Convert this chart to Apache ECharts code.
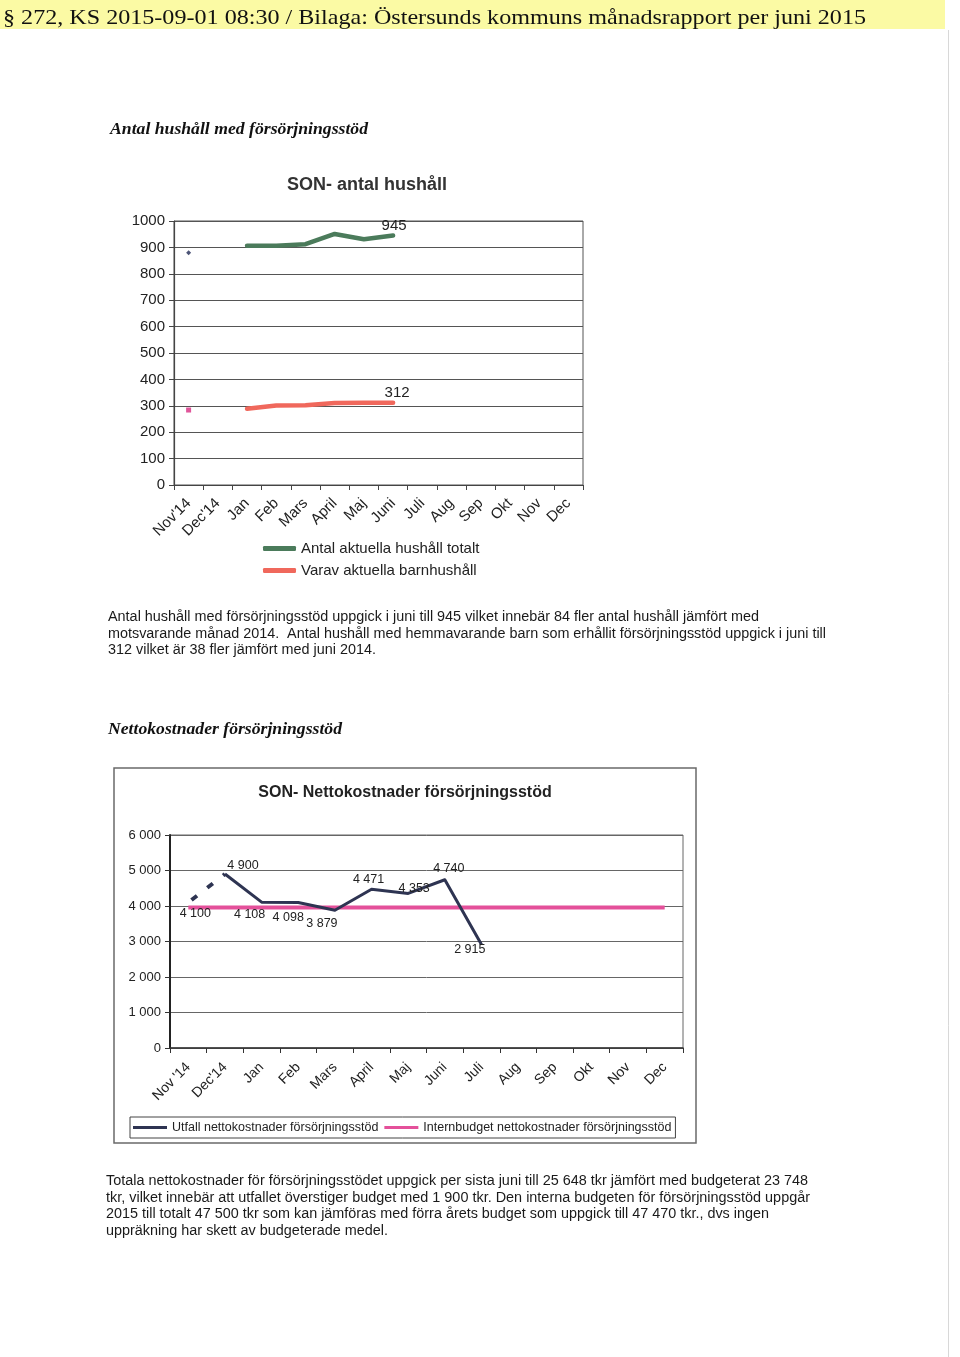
<!DOCTYPE html>
<html><head><meta charset="utf-8">
<script src="https://cdn.jsdelivr.net/npm/echarts@6/dist/echarts.min.js"></script>
<style>html,body{margin:0;padding:0;background:#fff}#c{width:960px;height:1357px}</style>
</head><body><div id="c"></div>
<script>
// ---------- data ----------
const cats1 = ["Nov'14","Dec'14","Jan","Feb","Mars","April","Maj","Juni","Juli","Aug","Sep","Okt","Nov","Dec"];
const cats2 = ["Nov '14","Dec'14","Jan","Feb","Mars","April","Maj","Juni","Juli","Aug","Sep","Okt","Nov","Dec"];
const hushallTotalt = [880, null, 906, 906, 912, 951, 931, 945, null, null, null, null, null, null];
const barnhushall   = [284, null, 289, 301, 302, 311, 312, 312, null, null, null, null, null, null];
const utfall        = [4100, 4900, 4108, 4098, 3879, 4471, 4353, 4740, 2915, null, null, null, null, null];
const internbudget  = [3958, 3958, 3958, 3958, 3958, 3958, 3958, 3958, 3958, 3958, 3958, 3958, 3958, 3958];
const seriesNames1 = ['Antal aktuella hushåll totalt', 'Varav aktuella barnhushåll'];
const seriesNames2 = ['Utfall nettokostnader försörjningsstöd', 'Internbudget nettokostnader försörjningsstöd'];
const headerText = '§ 272, KS 2015-09-01 08:30 / Bilaga: Östersunds kommuns månadsrapport per juni 2015';
const heading1 = 'Antal hushåll med försörjningsstöd';
const heading2 = 'Nettokostnader försörjningsstöd';
const para1 = [
  'Antal hushåll med försörjningsstöd uppgick i juni till 945 vilket innebär 84 fler antal hushåll jämfört med',
  'motsvarande månad 2014.  Antal hushåll med hemmavarande barn som erhållit försörjningsstöd uppgick i juni till',
  '312 vilket är 38 fler jämfört med juni 2014.'
];
const para2 = [
  'Totala nettokostnader för försörjningsstödet uppgick per sista juni till 25 648 tkr jämfört med budgeterat 23 748',
  'tkr, vilket innebär att utfallet överstiger budget med 1 900 tkr. Den interna budgeten för försörjningsstöd uppgår',
  '2015 till totalt 47 500 tkr som kan jämföras med förra årets budget som uppgick till 47 470 tkr., dvs ingen',
  'uppräkning har skett av budgeterade medel.'
];

// ---------- helpers ----------
const SANS = "'Liberation Sans', Arial, sans-serif";
const SERIF = "'Liberation Serif', 'Times New Roman', serif";
const fmt = v => String(v).replace(/\B(?=(\d{3})+(?!\d))/g, ' ');
const mctx = document.createElement('canvas').getContext('2d');
function fitText(str, font, x, cy, targetW, fill) {
  mctx.font = font;
  const w = mctx.measureText(str).width;
  const s = targetW ? targetW / w : 1;
  return { type: 'text', x: x, y: cy, scaleX: s, z: 10,
    style: { text: str, font: font, fill: fill || '#1a1a1a', verticalAlign: 'middle', align: 'left' } };
}

// label placement for chart 2 (offsets relative to the point)
const place2 = [
  { position: 'bottom', distance: 1, offset: [7, 4] },
  { position: 'top', distance: 5, offset: [18, 3] },
  { position: 'bottom', distance: 5, offset: [-12, 1] },
  { position: 'bottom', distance: 5, offset: [-10, 4] },
  { position: 'bottom', distance: 5, offset: [-13, 2] },
  { position: 'top', distance: 3, offset: [-3, 0] },
  { position: 'top', distance: 0, offset: [6, 2] },
  { position: 'top', distance: 5, offset: [4, 0] },
  { position: 'left', distance: 2, offset: [6, 5] }
];

const last1 = hushallTotalt.reduce((a, v, i) => v != null ? i : a, 0);
const lab1 = { show: true, position: 'top', distance: 2, fontSize: 15, color: '#222', fontFamily: SANS, formatter: p => fmt(p.value) };

function build1(arr, firstSym, firstColor, labOffset) {
  return arr.map((v, i) => {
    if (v == null) return null;
    if (i === 0) return { value: v, symbol: firstSym, symbolSize: 5, itemStyle: { color: firstColor } };
    if (i === last1) return { value: v, label: Object.assign({}, lab1, { offset: labOffset }) };
    return v;
  });
}

const graphics = [
  { type: 'rect', shape: { x: 0, y: 0, width: 945, height: 29 }, style: { fill: '#fbfaa4' }, z: 0 },
  { type: 'line', shape: { x1: 948.5, y1: 30, x2: 948.5, y2: 1357 }, style: { stroke: '#d8d8d8', lineWidth: 1 } },
  fitText(headerText, "22px " + SERIF, 3, 18, 863, '#111'),
  fitText(heading1, "italic bold 17px " + SERIF, 110, 130, 258, '#111'),
  fitText(heading2, "italic bold 17px " + SERIF, 108, 730, 234, '#111'),
  { type: 'rect', shape: { x: 114, y: 768, width: 582, height: 375 }, style: { fill: 'none', stroke: '#6a6a6a', lineWidth: 1.5 }, z: 1 }
];
const p1W = [651, 718, 268];
para1.forEach((t, i) => graphics.push(fitText(t, "14px " + SANS, 108, 617.5 + i * 16.5, p1W[i])));
const p2W = [702, 704, 663, 282];
para2.forEach((t, i) => graphics.push(fitText(t, "14px " + SANS, 106, 1181.5 + i * 16.5, p2W[i])));

const axisLabelBase = { color: '#222', fontFamily: SANS };

const option = {
  animation: false,
  backgroundColor: '#fff',
  title: [
    { text: 'SON- antal hushåll', left: 362, top: 171, textAlign: 'center',
      textStyle: { fontSize: 18, fontWeight: 'bold', color: '#333', fontFamily: SANS } },
    { text: 'SON- Nettokostnader försörjningsstöd', left: 400, top: 780, textAlign: 'center',
      textStyle: { fontSize: 16, fontWeight: 'bold', color: '#222', fontFamily: SANS } }
  ],
  legend: [
    { data: seriesNames1, orient: 'vertical', left: 263, top: 540, icon: 'roundRect', padding: 0,
      itemWidth: 33, itemHeight: 5, itemGap: 5, selectedMode: false,
      textStyle: { fontSize: 15, color: '#222', fontFamily: SANS, lineHeight: 17 } },
    { data: seriesNames2, orient: 'horizontal', left: 130, top: 1117, icon: 'rect',
      itemWidth: 34, itemHeight: 3, itemGap: 6, selectedMode: false, padding: [4, 4, 4, 3],
      borderColor: '#444', borderWidth: 1,
      textStyle: { fontSize: 12.5, color: '#222', fontFamily: SANS } }
  ],
  grid: [
    { left: 174, top: 221, width: 409, height: 264, show: true, borderColor: '#555', borderWidth: 1 },
    { left: 170, top: 835, width: 513, height: 213, show: true, borderColor: '#666', borderWidth: 1 }
  ],
  xAxis: [
    { type: 'category', gridIndex: 0, data: cats1, boundaryGap: true,
      axisLine: { lineStyle: { color: '#444', width: 1 } },
      axisTick: { show: true, length: 5, lineStyle: { color: '#444' } },
      axisLabel: Object.assign({ rotate: 45, interval: 0, fontSize: 15, margin: 16 }, axisLabelBase) },
    { type: 'category', gridIndex: 1, data: cats2, boundaryGap: true,
      axisLine: { lineStyle: { color: '#333', width: 1.5 } },
      axisTick: { show: true, length: 5, lineStyle: { color: '#333' } },
      axisLabel: Object.assign({ rotate: 45, interval: 0, fontSize: 14, margin: 17 }, axisLabelBase) }
  ],
  yAxis: [
    { type: 'value', gridIndex: 0, min: 0, max: 1000, interval: 100,
      axisLine: { show: true, lineStyle: { color: '#444', width: 1.2 } },
      axisTick: { show: true, length: 5, lineStyle: { color: '#444' } },
      splitLine: { lineStyle: { color: '#555', width: 1 } },
      axisLabel: Object.assign({ fontSize: 15, margin: 9, formatter: v => String(v) }, axisLabelBase) },
    { type: 'value', gridIndex: 1, min: 0, max: 6000, interval: 1000,
      axisLine: { show: true, lineStyle: { color: '#222', width: 2 } },
      axisTick: { show: true, length: 5, lineStyle: { color: '#333' } },
      splitLine: { lineStyle: { color: '#666', width: 1 } },
      axisLabel: Object.assign({ fontSize: 13, margin: 9, formatter: v => fmt(v) }, axisLabelBase) }
  ],
  series: [
    { name: seriesNames1[0], type: 'line', xAxisIndex: 0, yAxisIndex: 0, z: 3,
      data: build1(hushallTotalt, 'diamond', '#4d5577', [1, 0]),
      symbol: 'circle', symbolSize: 0, showSymbol: true, connectNulls: false,
      itemStyle: { color: '#4b7b5b' }, lineStyle: { color: '#4b7b5b', width: 4.5, cap: 'round', join: 'round' } },
    { name: seriesNames1[1], type: 'line', xAxisIndex: 0, yAxisIndex: 0, z: 3,
      data: build1(barnhushall, 'rect', '#e0559a', [4, 0]),
      symbol: 'circle', symbolSize: 0, showSymbol: true, connectNulls: false,
      itemStyle: { color: '#f0685c' }, lineStyle: { color: '#f0685c', width: 4.5, cap: 'round', join: 'round' } },
    { name: seriesNames2[1], type: 'line', xAxisIndex: 1, yAxisIndex: 1, z: 2,
      data: internbudget, symbol: 'none',
      itemStyle: { color: '#e4509a' }, lineStyle: { color: '#e4509a', width: 4 } },
    { name: 'utfallStart', type: 'line', xAxisIndex: 1, yAxisIndex: 1, z: 4,
      data: utfall.map((v, i) => i > 1 || v == null ? null :
        (i === 0 ? { value: v, label: Object.assign({ show: true, fontSize: 12.5, color: '#222', fontFamily: SANS, formatter: p => fmt(p.value) }, place2[0]) } : v)),
      symbol: 'circle', symbolSize: 0, connectNulls: false,
      itemStyle: { color: '#2e3452' }, lineStyle: { color: '#2e3452', width: 4, type: [7, 13], dashOffset: -4 } },
    { name: seriesNames2[0], type: 'line', xAxisIndex: 1, yAxisIndex: 1, z: 5,
      data: utfall.map((v, i) => (i === 0 || v == null) ? null :
        { value: v, label: Object.assign({ show: true, fontSize: 12.5, color: '#222', fontFamily: SANS, formatter: p => fmt(p.value) }, place2[i]) }),
      symbol: 'circle', symbolSize: 0, connectNulls: false,
      itemStyle: { color: '#2e3452' }, lineStyle: { color: '#2e3452', width: 3, join: 'round' } }
  ],
  graphic: graphics
};

const chart = echarts.init(document.getElementById('c'), null, { renderer: 'canvas' });
chart.setOption(option);
</script>
</body></html>
